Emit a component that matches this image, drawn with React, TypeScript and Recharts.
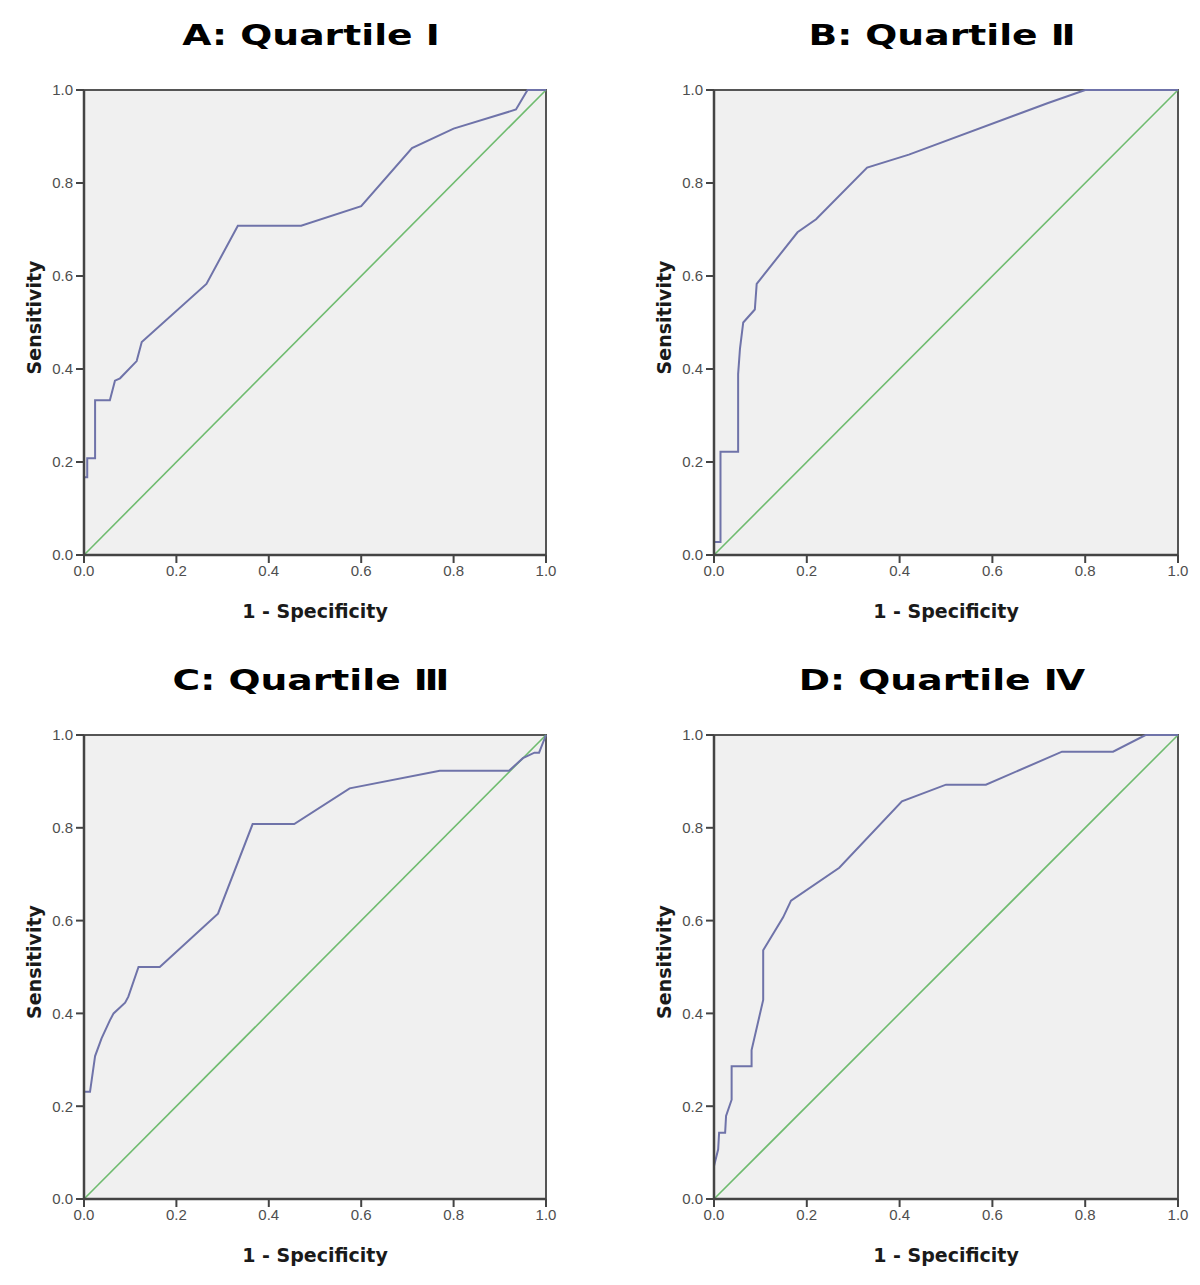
import React from 'react'
import { LineChart, Line, XAxis, YAxis, ReferenceArea, ReferenceLine } from 'recharts'

const TICKS = [0, 0.2, 0.4, 0.6, 0.8, 1.0]
const TITLES = ['A: Quartile Ⅰ', 'B: Quartile Ⅱ', 'C: Quartile Ⅲ', 'D: Quartile Ⅳ']
const X_LABEL = '1 - Specificity'
const Y_LABEL = 'Sensitivity'

// ROC points: 1 - specificity / sensitivity
const fprA = [0, 0, 0.007, 0.007, 0.024, 0.024, 0.056, 0.067, 0.078, 0.114, 0.125, 0.265, 0.333, 0.47, 0.6, 0.71, 0.8, 0.935, 0.96, 1]
const tprA = [0, 0.167, 0.167, 0.208, 0.208, 0.333, 0.333, 0.375, 0.38, 0.417, 0.458, 0.583, 0.708, 0.708, 0.75, 0.875, 0.917, 0.958, 1, 1]

const fprB = [0, 0, 0.014, 0.014, 0.052, 0.052, 0.056, 0.063, 0.088, 0.092, 0.18, 0.22, 0.33, 0.42, 0.72, 0.8, 1]
const tprB = [0, 0.028, 0.028, 0.222, 0.222, 0.389, 0.444, 0.5, 0.528, 0.583, 0.694, 0.722, 0.833, 0.861, 0.972, 1, 1]

const fprC = [0, 0, 0.013, 0.024, 0.038, 0.056, 0.064, 0.089, 0.096, 0.118, 0.164, 0.29, 0.365, 0.455, 0.575, 0.77, 0.92, 0.95, 0.975, 0.985, 1]
const tprC = [0, 0.231, 0.231, 0.308, 0.346, 0.385, 0.4, 0.423, 0.436, 0.5, 0.5, 0.615, 0.808, 0.808, 0.885, 0.923, 0.923, 0.95, 0.962, 0.962, 1]

const fprD = [0, 0, 0.009, 0.011, 0.024, 0.026, 0.038, 0.038, 0.081, 0.081, 0.106, 0.106, 0.149, 0.166, 0.27, 0.405, 0.5, 0.586, 0.75, 0.86, 0.93, 1]
const tprD = [0, 0.071, 0.107, 0.143, 0.143, 0.179, 0.214, 0.286, 0.286, 0.321, 0.429, 0.536, 0.607, 0.643, 0.714, 0.857, 0.893, 0.893, 0.964, 0.964, 1, 1]

const toPoints = (fpr: number[], tpr: number[]) => fpr.map((x, i) => ({ x, y: tpr[i] }))

const PANELS = [
  { title: TITLES[0], data: toPoints(fprA, tprA), left: 0, top: 0, margin: { top: 90, right: 54, bottom: 55, left: 40 } },
  { title: TITLES[1], data: toPoints(fprB, tprB), left: 600, top: 0, margin: { top: 90, right: 22, bottom: 55, left: 70 } },
  { title: TITLES[2], data: toPoints(fprC, tprC), left: 0, top: 640, margin: { top: 95, right: 54, bottom: 51, left: 40 } },
  { title: TITLES[3], data: toPoints(fprD, tprD), left: 600, top: 640, margin: { top: 95, right: 22, bottom: 51, left: 70 } },
]

const fmt = (v: number) => v.toFixed(1)
const tickStyle = { fill: '#4e4e4e', fontSize: 15, fontFamily: '"Liberation Sans", Arial, sans-serif' }
const labelFont = '"DejaVu Sans", Verdana, sans-serif'

function RocPanel({ p }: { p: (typeof PANELS)[number] }) {
  const plotLeft = p.left + p.margin.left + 44
  const plotRight = p.left + 600 - p.margin.right
  const plotTop = p.top + p.margin.top
  const plotBottom = p.top + 640 - p.margin.bottom - 30
  const cx = (plotLeft + plotRight) / 2
  const cy = (plotTop + plotBottom) / 2
  return (
    <>
      <div style={{ position: 'absolute', left: p.left, top: p.top }}>
        <LineChart width={600} height={640} data={p.data} margin={p.margin}>
          <ReferenceArea x1={0} x2={1} y1={0} y2={1} fill="#f0f0f0" fillOpacity={1} stroke="#555" strokeWidth={2} />
          <XAxis
            type="number"
            dataKey="x"
            domain={[0, 1]}
            ticks={TICKS}
            tickFormatter={fmt}
            height={30}
            tickSize={8}
            tickMargin={2}
            axisLine={{ stroke: '#444', strokeWidth: 2.5 }}
            tickLine={{ stroke: '#444', strokeWidth: 2 }}
            tick={tickStyle}
          />
          <YAxis
            type="number"
            domain={[0, 1]}
            ticks={TICKS}
            tickFormatter={fmt}
            width={44}
            tickSize={8}
            tickMargin={3}
            axisLine={{ stroke: '#444', strokeWidth: 2.5 }}
            tickLine={{ stroke: '#444', strokeWidth: 2 }}
            tick={tickStyle}
          />
          <ReferenceLine segment={[{ x: 0, y: 0 }, { x: 1, y: 1 }]} stroke="#6fbb6f" strokeWidth={1.6} />
          <Line type="linear" dataKey="y" stroke="#6f73a9" strokeWidth={2} dot={false} isAnimationActive={false} />
        </LineChart>
      </div>
      <svg
        width={1200}
        height={1285}
        style={{ position: 'absolute', left: 0, top: 0, pointerEvents: 'none' }}
      >
        <text
          transform={`translate(${cx - 4},${plotTop - 45}) scale(1.3,1)`}
          textAnchor="middle"
          fontFamily={labelFont}
          fontWeight="bold"
          fontSize={29}
          fill="#000"
        >
          {p.title}
        </text>
        <text x={cx} y={plotBottom + 63} textAnchor="middle" fontFamily={labelFont} fontWeight="bold" fontSize={19} fill="#1a1a1a">
          {X_LABEL}
        </text>
        <text
          transform={`translate(${plotLeft - 43},${cy - 5}) rotate(-90)`}
          textAnchor="middle"
          fontFamily={labelFont}
          fontWeight="bold"
          fontSize={19}
          fill="#1a1a1a"
        >
          {Y_LABEL}
        </text>
      </svg>
    </>
  )
}

export default function App() {
  return (
    <div style={{ position: 'absolute', left: 0, top: 0, width: 1200, height: 1285, background: '#fff' }}>
      {PANELS.map((p) => (
        <RocPanel key={p.title} p={p} />
      ))}
    </div>
  )
}
